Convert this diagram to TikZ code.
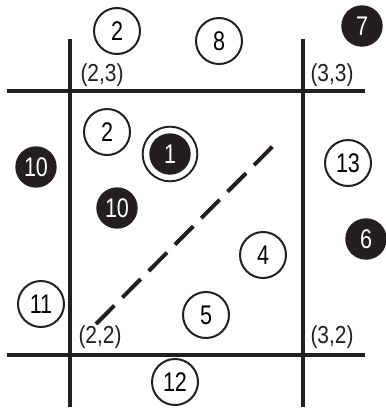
\documentclass[tikz,border=0pt]{standalone}
\usepackage{fontspec}
\setmainfont{Liberation Sans}
\newfontfamily\narrowsans{Liberation Sans}[FakeStretch=0.8]
\newfontfamily\labelsans{Liberation Sans}[FakeStretch=0.85]
\usetikzlibrary{positioning}
\definecolor{inkblack}{HTML}{231F20}
\tikzset{
  wnode/.style={circle, draw=inkblack, fill=white, line width=1.7pt,
                minimum size=13.8mm, inner sep=0pt, font=\narrowsans\fontsize{23}{23}\selectfont},
  bnode/.style={circle, draw=inkblack, fill=inkblack, text=white, line width=1.2pt,
                minimum size=12mm, inner sep=0pt, font=\narrowsans\fontsize{23}{23}\selectfont},
  ring/.style={circle, draw=inkblack, line width=1.6pt, minimum size=16.4mm, inner sep=0pt},
  cell/.style={line width=3pt, draw=inkblack},
  corner/.style={inner sep=0pt, text=inkblack, font=\labelsans\fontsize{21}{21}\selectfont},
  diag/.style={line width=3.4pt, draw=inkblack, dash pattern=on 7.8mm off 3.4mm}
}
\begin{document}
\begin{tikzpicture}[x=0.03cm, y=-0.03cm]
  \useasboundingbox (0,0) rectangle (385,414);
  % grid lines of the cell
  \draw[cell] (70,39) -- (70,407);
  \draw[cell] (303,39) -- (303,407);
  \draw[cell] (7,91) -- (365,91);
  \draw[cell] (7,355) -- (365,355);
  % corner labels
  \node[corner] (c23) at (102,75) {(2,3)};
  \node[corner] (c33) at (332,75) {(3,3)};
  \node[corner] (c22) at (100,337) {(2,2)};
  \node[corner] (c32) at (332,337) {(3,2)};
  % diagonal
  \draw[diag] (96,324) -- (279,140);
  % points
  \node[wnode] (p2a) at (117,31) {2};
  \node[wnode] (p8) at (219,41) {8};
  \node[bnode] (p7) at (362,26) {7};
  \node[wnode] (p2b) at (107,132) {2};
  \node[ring] (r1) at (170,154) {};
  \node[bnode] (p1) at (170,154) {1};
  \node[bnode] (p10a) at (36,167) {10};
  \node[bnode] (p10b) at (117,208) {10};
  \node[wnode] (p13) at (348,163) {13};
  \node[bnode] (p6) at (366,239) {6};
  \node[wnode] (p4) at (263,255) {4};
  \node[wnode] (p5) at (206,315) {5};
  \node[wnode] (p11) at (41,304) {11};
  \node[wnode] (p12) at (175,382) {12};
\end{tikzpicture}
\end{document}
